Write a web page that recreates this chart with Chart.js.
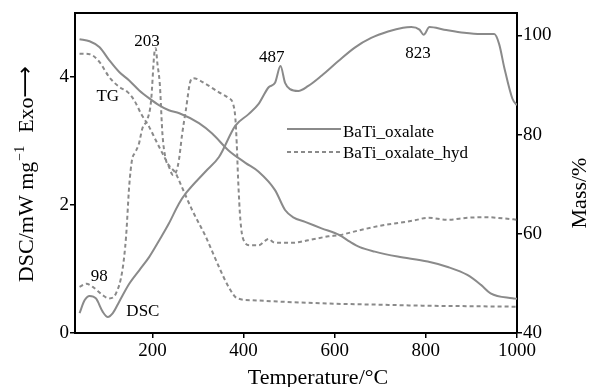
<!DOCTYPE html>
<html><head><meta charset="utf-8">
<script src="https://cdn.jsdelivr.net/npm/chart.js@4/dist/chart.umd.min.js"></script>
<style>html,body{margin:0;padding:0;background:#fff}</style>
</head><body>
<canvas id="c" width="589" height="387"></canvas>
<script>
// ---- tick labels ----
const tempTicks = [200, 400, 600, 800, 1000];
const dscTicks = [0, 2, 4];
const massTicks = [40, 60, 80, 100];

// ---- BaTi_oxalate TG (mass %) ----
const oxTgT    = [40, 62, 84, 105, 127, 149, 171, 193, 215, 236, 259, 302, 331, 367, 404, 433, 469, 491, 509, 535, 571, 611, 633, 655, 688, 738, 804, 848, 891, 921, 942, 990, 1000];
const oxTgMass = [99.2, 98.8, 97.6, 95.0, 92.6, 90.9, 88.9, 87.3, 85.9, 84.9, 84.3, 82.3, 80.2, 76.8, 74.3, 72.5, 68.8, 64.8, 63.3, 62.4, 61.1, 59.7, 58.4, 57.3, 56.4, 55.4, 54.4, 53.3, 51.7, 49.7, 48.0, 47.0, 46.9];

// ---- BaTi_oxalate DSC (mW/mg) ----
const oxDscT = [40, 51, 62, 76, 91, 102, 113, 127, 149, 171, 193, 215, 236, 258, 273, 316, 346, 382, 411, 433, 455, 469, 481, 491, 502, 520, 542, 571, 608, 644, 680, 717, 750, 768, 786, 795, 808, 840, 884, 921, 950, 961, 972, 990, 1000];
const oxDsc  = [0.31, 0.51, 0.58, 0.54, 0.33, 0.25, 0.31, 0.49, 0.77, 0.98, 1.19, 1.45, 1.71, 2.02, 2.18, 2.52, 2.75, 3.24, 3.42, 3.58, 3.84, 3.91, 4.17, 3.91, 3.81, 3.78, 3.86, 4.02, 4.25, 4.46, 4.61, 4.71, 4.77, 4.78, 4.74, 4.66, 4.78, 4.74, 4.69, 4.67, 4.67, 4.51, 4.15, 3.66, 3.56];

// ---- BaTi_oxalate_hyd TG (mass %) ----
const hydTgT    = [40, 62, 84, 105, 127, 145, 160, 175, 193, 207, 222, 236, 251, 258, 287, 317, 346, 367, 386, 420, 509, 600, 700, 800, 900, 1000];
const hydTgMass = [96.3, 96.2, 94.6, 91.6, 89.6, 88.6, 86.9, 84.2, 81.5, 78.9, 76.2, 73.8, 72.2, 70.8, 64.8, 59.4, 53.3, 49.3, 47.0, 46.6, 46.2, 45.9, 45.7, 45.5, 45.4, 45.3];

// ---- BaTi_oxalate_hyd DSC (mW/mg) ----
const hydDscT = [40, 55, 69, 91, 105, 120, 134, 142, 149, 155, 162, 170, 178, 189, 197, 204, 207, 211, 216, 222, 229, 236, 245, 252, 258, 265, 273, 284, 290, 317, 346, 367, 377, 382, 385, 388, 393, 400, 415, 433, 447, 455, 465, 477, 509, 542, 586, 611, 651, 703, 750, 775, 804, 848, 891, 935, 970, 1000];
const hydDsc  = [0.72, 0.77, 0.72, 0.59, 0.54, 0.62, 0.98, 1.50, 2.30, 2.70, 2.82, 2.95, 3.20, 3.34, 3.63, 4.36, 4.45, 4.20, 3.90, 3.10, 2.72, 2.60, 2.47, 2.52, 2.70, 3.10, 3.47, 3.95, 3.98, 3.89, 3.76, 3.67, 3.58, 3.35, 2.95, 2.40, 1.76, 1.45, 1.37, 1.37, 1.44, 1.47, 1.42, 1.41, 1.41, 1.45, 1.51, 1.53, 1.60, 1.68, 1.73, 1.76, 1.80, 1.77, 1.80, 1.81, 1.79, 1.77];

const toXY = (xs, ys) => xs.map((x, i) => ({x: x, y: ys[i]}));

const GRAY = '#8a8a8a';
const SERIF = '"Liberation Serif", "Times New Roman", serif';

const framePlugin = {
  id: 'frame',
  afterDraw(chart) {
    const {ctx, chartArea: a} = chart;
    ctx.save();
    ctx.strokeStyle = '#000';
    ctx.lineWidth = 2;
    ctx.beginPath();
    ctx.moveTo(a.left - 1, a.top);
    ctx.lineTo(a.right + 1, a.top);
    ctx.stroke();
    ctx.restore();
  }
};

const annotations = [
  {text: '203', t: 188, v: 4.55},
  {text: '487', t: 462, v: 4.30},
  {text: '823', t: 783, v: 4.36},
  {text: 'TG',  t: 102, v: 3.69},
  {text: '98',  t: 83,  v: 0.875},
  {text: 'DSC', t: 179, v: 0.34}
];

const textPlugin = {
  id: 'texts',
  afterDraw(chart) {
    const {ctx} = chart;
    const xs = chart.scales.x, ys = chart.scales.yDsc;
    ctx.save();
    ctx.fillStyle = '#000';
    // annotations
    ctx.font = '17px ' + SERIF;
    ctx.textAlign = 'center';
    ctx.textBaseline = 'middle';
    annotations.forEach(a => {
      ctx.fillText(a.text, xs.getPixelForValue(a.t), ys.getPixelForValue(a.v));
    });
    // legend
    const ds = chart.data.datasets;
    const entries = [ds[0], ds[2]];
    const ly = [129, 152];
    entries.forEach((d, i) => {
      ctx.save();
      ctx.strokeStyle = d.borderColor;
      ctx.lineWidth = 2;
      ctx.setLineDash(d.borderDash || []);
      ctx.beginPath();
      ctx.moveTo(287, ly[i]);
      ctx.lineTo(341, ly[i]);
      ctx.stroke();
      ctx.restore();
      ctx.font = '17px ' + SERIF;
      ctx.textAlign = 'left';
      ctx.textBaseline = 'middle';
      ctx.fillText(d.label, 343, ly[i] + 4 - i * 2);
    });
    // x title
    ctx.font = '22px ' + SERIF;
    ctx.textAlign = 'center';
    ctx.textBaseline = 'alphabetic';
    ctx.fillText('Temperature/\u00B0C', 318, 384);
    // right title
    ctx.save();
    ctx.translate(586, 193);
    ctx.rotate(-Math.PI / 2);
    ctx.fillText('Mass/%', 0, 0);
    ctx.restore();
    // left title with superscript
    ctx.save();
    ctx.translate(33, 174);
    ctx.rotate(-Math.PI / 2);
    ctx.textAlign = 'left';
    const big = '22px ' + SERIF, small = '14px ' + SERIF;
    const arrowFont = '22px "DejaVu Sans", ' + SERIF;
    const p1 = 'DSC/mW mg', p2 = '\u22121', p3 = 'Exo', p4 = '\u27F6';
    ctx.font = big; const w1 = ctx.measureText(p1).width;
    ctx.font = small; const w2 = ctx.measureText(p2).width;
    ctx.font = big; const w3 = ctx.measureText(p3).width;
    ctx.font = arrowFont; const w4 = ctx.measureText(p4).width;
    const gap = 14;
    const total = w1 + w2 + gap + w3 + w4;
    let x0 = -total / 2;
    ctx.font = big; ctx.fillText(p1, x0, 0);
    ctx.font = small; ctx.fillText(p2, x0 + w1 + 1, -9);
    ctx.font = big; ctx.fillText(p3, x0 + w1 + w2 + gap, 0);
    ctx.font = arrowFont; ctx.fillText(p4, x0 + w1 + w2 + gap + w3, -1);
    ctx.restore();
    ctx.restore();
  }
};

const tickFont = {family: SERIF, size: 19};
const axisCommon = {
  grid: {drawOnChartArea: false, drawTicks: true, tickLength: 5, color: '#000', lineWidth: 1.5},
  border: {display: true, color: '#000', width: 2}
};
const plainLabel = v => String(v);

new Chart(document.getElementById('c'), {
  type: 'line',
  data: {
    datasets: [
      {label: 'BaTi_oxalate', data: toXY(oxTgT, oxTgMass), yAxisID: 'yMass', borderColor: GRAY},
      {label: 'BaTi_oxalate', data: toXY(oxDscT, oxDsc), yAxisID: 'yDsc', borderColor: GRAY},
      {label: 'BaTi_oxalate_hyd', data: toXY(hydTgT, hydTgMass), yAxisID: 'yMass', borderColor: GRAY, borderDash: [4, 3]},
      {label: 'BaTi_oxalate_hyd', data: toXY(hydDscT, hydDsc), yAxisID: 'yDsc', borderColor: GRAY, borderDash: [4, 3]}
    ]
  },
  options: {
    responsive: false,
    animation: false,
    devicePixelRatio: 1,
    layout: {padding: {top: 13, left: 0, right: 0, bottom: 0}},
    plugins: {legend: {display: false}, tooltip: {enabled: false}},
    elements: {
      point: {radius: 0},
      line: {borderWidth: 2, cubicInterpolationMode: 'monotone', fill: false}
    },
    scales: {
      x: Object.assign({}, axisCommon, {
        type: 'linear', min: 30, max: 1000,
        afterBuildTicks: s => { s.ticks = tempTicks.map(v => ({value: v})); },
        afterFit: s => { s.height = 54; },
        ticks: {font: tickFont, color: '#000', padding: 2, maxRotation: 0, autoSkip: false, callback: plainLabel}
      }),
      yDsc: Object.assign({}, axisCommon, {
        type: 'linear', position: 'left', min: 0, max: 5,
        afterBuildTicks: s => { s.ticks = dscTicks.map(v => ({value: v})); },
        afterFit: s => { s.width = 75; },
        ticks: {font: tickFont, color: '#000', padding: 1, callback: plainLabel}
      }),
      yMass: Object.assign({}, axisCommon, {
        type: 'linear', position: 'right', min: 40, max: 104.5,
        afterBuildTicks: s => { s.ticks = massTicks.map(v => ({value: v})); },
        afterFit: s => { s.width = 72; },
        ticks: {font: tickFont, color: '#000', padding: 1, callback: plainLabel}
      })
    }
  },
  plugins: [framePlugin, textPlugin]
});
</script>
</body></html>
